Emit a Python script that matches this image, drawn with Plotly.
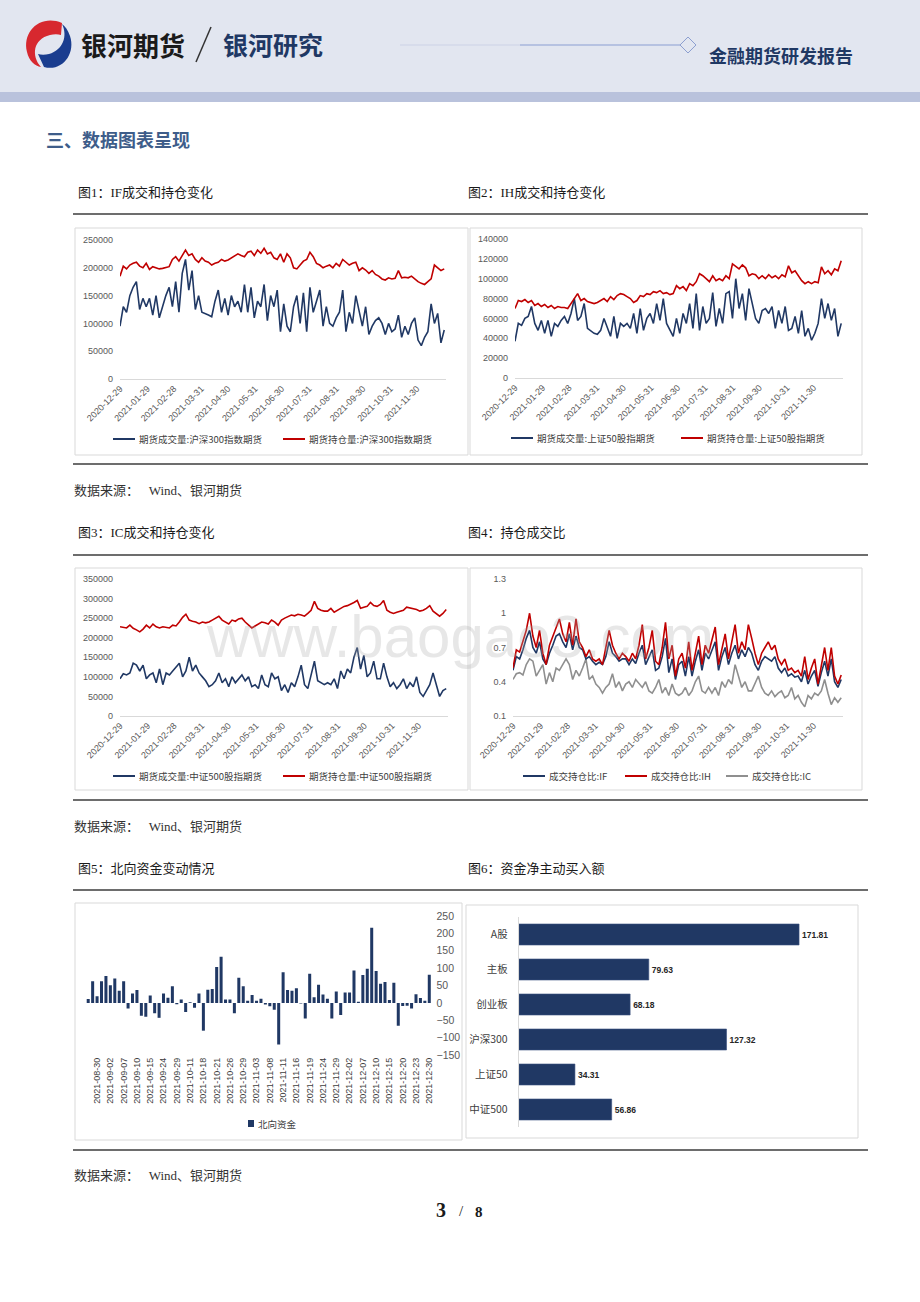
import plotly.graph_objects as go
import pandas as pd

W, H = 920, 1302
NAVY = "#203864"
RED = "#c00000"
GRAY = "#8f8f8f"
TICK = "#595959"
CJK = "Noto Sans CJK SC"
SERIF = "Liberation Serif, Noto Sans CJK SC"
SANS = "Liberation Sans, Noto Sans CJK SC"

# ---------------- data ----------------
date_ticks = ["2020-12-29", "2021-01-29", "2021-02-28", "2021-03-31", "2021-04-30", "2021-05-31",
              "2021-06-30", "2021-07-31", "2021-08-31", "2021-09-30", "2021-10-31", "2021-11-30"]
series_start, series_end = "2020-12-29", "2021-12-31"

# volumes / open interest in thousands of contracts
if_vol = [95, 130, 120, 150, 165, 175, 125, 145, 130, 145,
          115, 150, 110, 130, 150, 165, 130, 175, 120, 190,
          215, 160, 195, 125, 150, 120, 118, 115, 112, 140,
          160, 120, 145, 115, 150, 130, 140, 120, 170, 120,
          165, 110, 140, 130, 170, 105, 150, 130, 160, 85,
          135, 95, 85, 130, 150, 100, 155, 85, 165, 120,
          140, 160, 95, 130, 100, 95, 110, 120, 160, 85,
          120, 100, 150, 125, 95, 130, 80, 95, 105, 110,
          100, 80, 100, 85, 90, 115, 75, 95, 80, 100,
          110, 70, 60, 75, 85, 135, 100, 118, 65, 88]
if_oi = [185, 203, 198, 205, 208, 210, 203, 200, 208, 197,
         202, 200, 198, 199, 200, 202, 215, 220, 212, 222,
         232, 222, 225, 215, 210, 218, 212, 210, 205, 208,
         210, 215, 212, 214, 218, 222, 225, 222, 220, 228,
         230, 222, 232, 226, 235, 225, 228, 218, 215, 225,
         210, 225, 218, 200, 198, 205, 212, 215, 228, 220,
         208, 205, 200, 203, 205, 200, 208, 203, 215, 210,
         205, 208, 210, 195, 200, 196, 190, 195, 188, 185,
         180, 178, 182, 180, 181, 195, 182, 183, 182, 185,
         180, 175, 172, 170, 175, 180, 205, 200, 195, 198]
ih_vol = [37, 55, 53, 60, 62, 72, 55, 48, 58,
          45, 58, 42, 55, 52, 58, 62, 55,
          65, 80, 58, 62, 75, 50, 47, 45, 44,
          48, 60, 50, 42, 62, 40, 55, 52,
          55, 50, 65, 45, 70, 48, 60, 65,
          55, 75, 58, 80, 55, 48, 42, 60, 45,
          65, 55, 75, 50, 85, 48, 72, 55,
          60, 86, 52, 70, 55, 85, 87, 60,
          100, 70, 85, 58, 90, 75, 60, 55, 68,
          70, 65, 72, 50, 68, 55, 72, 48,
          50, 62, 45, 68, 42, 50, 38, 45,
          55, 80, 60, 75, 58, 70, 42, 55]
ih_oi = [70, 78, 77, 79, 76, 78, 73, 75, 72,
         74, 71, 73, 70, 72, 71, 71, 70,
         75, 80, 85, 78, 80, 77, 76, 75, 76,
         78, 80, 77, 82, 79, 83, 85, 84,
         82, 80, 76, 78, 83, 82, 85, 84,
         87, 86, 88, 85, 86, 84, 85,
         93, 90, 92, 88, 95, 93, 97,
         105, 103, 100, 97, 103, 98, 100, 98, 103, 100,
         115, 112, 110, 114, 111, 103,
         105, 104, 100, 103, 100, 104, 101, 103, 100, 104, 102,
         113, 106, 108, 103, 98,
         95, 97, 95, 97, 96,
         112, 105, 108, 104, 110, 108, 118]
ic_vol = [95, 108, 105, 110, 135, 130, 115, 130, 95, 105,
          110, 85, 120, 80, 110, 105, 115, 125, 135, 100,
          115, 150, 115, 130, 110, 100, 90, 75, 80, 90,
          110, 85, 95, 75, 100, 85, 95, 105, 90, 100,
          75, 80, 70, 105, 80, 75, 110, 95, 100, 65,
          80, 60, 85, 75, 100, 130, 80, 70, 105, 140,
          90, 85, 80, 85, 80, 95, 70, 115, 95, 120,
          110, 150, 175, 120, 155, 100, 110, 140, 95, 95,
          135, 100, 75, 85, 70, 80, 95, 70, 85, 75,
          100, 60, 50, 65, 80, 110, 80, 50, 65, 70]
ic_oi = [228, 227, 225, 232, 224, 220, 215, 222, 232, 225,
         235, 228, 225, 228, 226, 225, 232, 230, 240, 252,
         260, 245, 242, 240, 236, 240, 238, 240, 245, 250,
         255, 245, 240, 235, 245, 242, 248, 250, 240, 232,
         225, 230, 235, 240, 238, 235, 245, 240, 232, 245,
         250, 255, 258, 256, 260, 258, 255, 262, 270, 293,
         275, 270, 268, 268, 275, 265, 270, 275, 280, 282,
         285, 290, 295, 275, 278, 280, 290, 282, 280, 285,
         295, 270, 265, 262, 265, 268, 270, 278, 276, 275,
         272, 268, 270, 275, 282, 268, 262, 255, 262, 272]
ratio_if = [0.50, 0.62, 0.60, 0.68, 0.78, 0.85, 0.70, 0.65, 0.75, 0.60,
            0.55, 0.65, 0.72, 0.80, 0.82, 0.75, 0.70, 0.82, 0.68, 0.80,
            0.70, 0.68, 0.60, 0.62, 0.58, 0.55, 0.57, 0.55, 0.62, 0.75,
            0.65, 0.62, 0.58, 0.60, 0.60, 0.55, 0.60, 0.56, 0.65, 0.72,
            0.55, 0.62, 0.68, 0.50, 0.52, 0.62, 0.78, 0.48, 0.60, 0.42,
            0.55, 0.58, 0.45, 0.62, 0.45, 0.58, 0.68, 0.50, 0.65, 0.60,
            0.68, 0.75, 0.50, 0.62, 0.70, 0.55, 0.65, 0.72, 0.60, 0.68,
            0.62, 0.70, 0.65, 0.55, 0.50, 0.58, 0.62, 0.60, 0.58, 0.62,
            0.52, 0.48, 0.52, 0.45, 0.47, 0.44, 0.45, 0.40, 0.50, 0.38,
            0.45, 0.50, 0.36, 0.48, 0.58, 0.45, 0.60, 0.40, 0.35, 0.42]
ratio_ih = [0.52, 0.68, 0.66, 0.75, 0.85, 1.00, 0.80, 0.70, 0.85, 0.65,
            0.55, 0.72, 0.80, 0.88, 0.95, 0.82, 0.75, 0.92, 0.72, 0.95,
            0.75, 0.70, 0.62, 0.68, 0.60, 0.58, 0.60, 0.55, 0.70, 0.85,
            0.72, 0.65, 0.60, 0.65, 0.62, 0.58, 0.65, 0.60, 0.72, 0.90,
            0.60, 0.70, 0.85, 0.58, 0.55, 0.70, 0.92, 0.60, 0.72, 0.45,
            0.60, 0.65, 0.52, 0.75, 0.50, 0.65, 0.80, 0.55, 0.72, 0.65,
            0.78, 0.88, 0.55, 0.70, 0.82, 0.60, 0.75, 0.90, 0.65, 0.75,
            0.68, 0.90, 0.78, 0.65, 0.55, 0.65, 0.70, 0.75, 0.68, 0.72,
            0.60, 0.55, 0.60, 0.50, 0.52, 0.48, 0.50, 0.45, 0.62, 0.42,
            0.52, 0.60, 0.38, 0.55, 0.70, 0.50, 0.70, 0.45, 0.38, 0.46]
ratio_ic = [0.42, 0.47, 0.48, 0.46, 0.55, 0.60, 0.58, 0.45, 0.50, 0.55,
            0.38, 0.48, 0.40, 0.52, 0.50, 0.55, 0.60, 0.55, 0.42, 0.50,
            0.45, 0.52, 0.60, 0.42, 0.45, 0.38, 0.35, 0.30, 0.35, 0.38,
            0.47, 0.35, 0.40, 0.32, 0.38, 0.40, 0.35, 0.42, 0.38, 0.35,
            0.40, 0.32, 0.30, 0.35, 0.42, 0.30, 0.35, 0.28, 0.38, 0.30,
            0.28, 0.30, 0.35, 0.28, 0.32, 0.40, 0.45, 0.32, 0.30, 0.35,
            0.30, 0.35, 0.28, 0.40, 0.35, 0.42, 0.38, 0.55, 0.45, 0.35,
            0.40, 0.32, 0.32, 0.38, 0.45, 0.35, 0.30, 0.28, 0.32, 0.27,
            0.30, 0.32, 0.26, 0.28, 0.35, 0.25, 0.28, 0.22, 0.18, 0.28,
            0.25, 0.30, 0.28, 0.32, 0.42, 0.30, 0.20, 0.26, 0.22, 0.26]

north_labels = ["2021-08-30", "2021-09-02", "2021-09-07", "2021-09-10", "2021-09-15", "2021-09-24",
                "2021-09-29", "2021-10-11", "2021-10-18", "2021-10-21", "2021-10-26", "2021-10-29",
                "2021-11-03", "2021-11-08", "2021-11-11", "2021-11-16", "2021-11-19", "2021-11-24",
                "2021-11-29", "2021-12-02", "2021-12-07", "2021-12-10", "2021-12-15", "2021-12-20",
                "2021-12-23", "2021-12-30"]
north_flow = [11, 62, 19, 62, 77, 51, 70, 35, 62, -16,
              27, 37, -37, -40, 21, -30, -43, 27, 15, 48,
              -4, 10, -26, 2, -14, 27, -80, 38, 40, 103,
              133, 10, 10, -30, 72, 48, 6, 23, 6, 12,
              -5, -10, -20, -120, 88, 37, 35, 42, -2, -45,
              84, 16, 52, 24, 12, -45, 33, -35, 30, 30,
              93, 3, 80, 98, 216, 92, 55, 60, 8, 58,
              -66, -9, -8, -16, 25, 14, 6, 81]

buy_cats = ["A股", "主板", "创业板", "沪深300", "上证50", "中证500"]
buy_vals = [171.81, 79.63, 68.18, 127.32, 34.31, 56.86]

# ---------------- helpers ----------------
def X(x):
    return x / W


def Y(y):
    return 1 - y / H


def path(s):
    out, pair = [], []
    for tok in s.split():
        try:
            v = float(tok)
        except ValueError:
            out.append(tok)
            continue
        pair.append(v)
        if len(pair) == 2:
            out.append(f"{X(pair[0]):.5f},{Y(pair[1]):.5f}")
            pair = []
    return " ".join(out)


shapes, annos = [], []


def rect(x0, y0, x1, y1, fill=None, line=None, lw=1):
    shapes.append(dict(type="rect", xref="paper", yref="paper", x0=X(x0), x1=X(x1), y0=Y(y1), y1=Y(y0),
                       fillcolor=fill or "rgba(0,0,0,0)", line=dict(color=line or "rgba(0,0,0,0)", width=lw if line else 0)))


def hline(x0, y0, x1, y1, color, w=1):
    shapes.append(dict(type="line", xref="paper", yref="paper", x0=X(x0), x1=X(x1), y0=Y(y0), y1=Y(y1),
                       line=dict(color=color, width=w)))


def text(x, y, s, size, color="#333333", family=CJK, xanchor="left", weight="normal"):
    annos.append(dict(xref="paper", yref="paper", x=X(x), y=Y(y), text=s, showarrow=False,
                      xanchor=xanchor, yanchor="middle",
                      font=dict(size=size, color=color, family=family, weight=weight)))


fig = go.Figure()


def add_line(vals, color, sfx, scale=1):
    n = len(vals)
    fig.add_trace(go.Scatter(x=pd.date_range(series_start, series_end, periods=n),
                             y=[v * scale for v in vals], mode="lines",
                             line=dict(color=color, width=1.6),
                             xaxis="x" + sfx, yaxis="y" + sfx, showlegend=False, hoverinfo="skip"))


def time_axes(sfx, x0, x1, ytop, ybot, yr, ytv, ytt):
    fig.layout["xaxis" + sfx] = dict(
        domain=[X(x0), X(x1)], anchor="y" + sfx, type="date",
        range=["2020-12-29", "2022-01-02"], tickmode="array", tickvals=date_ticks, ticktext=date_ticks,
        tickangle=-45, tickfont=dict(family=SANS, size=9, color=TICK), showgrid=False, zeroline=False,
        showline=True, linecolor="#d9d9d9", linewidth=1, ticks="", fixedrange=True, automargin=False)
    fig.layout["yaxis" + sfx] = dict(
        domain=[Y(ybot), Y(ytop)], anchor="x" + sfx, range=yr, tickmode="array", tickvals=ytv, ticktext=ytt,
        tickfont=dict(family=SANS, size=9, color=TICK), showgrid=False, zeroline=False, showline=False,
        ticks="", ticklabelstandoff=6, fixedrange=True, automargin=False)


def legend_item(x, y, color, label):
    hline(x, y, x + 22, y, color, 2)
    text(x + 24, y, label, 9.5, "#404040")


# ---------------- chart 1: IF ----------------
add_line(if_vol, NAVY, "", 1000)
add_line(if_oi, RED, "", 1000)
time_axes("", 120, 446, 240, 379, [0, 250000], [0, 50000, 100000, 150000, 200000, 250000],
          ["0", "50000", "100000", "150000", "200000", "250000"])
legend_item(113, 439, NAVY, "期货成交量:沪深300指数期货")
legend_item(283, 439, RED, "期货持仓量:沪深300指数期货")

# ---------------- chart 2: IH ----------------
add_line(ih_vol, NAVY, "2", 1000)
add_line(ih_oi, RED, "2", 1000)
time_axes("2", 515, 843, 239, 378, [0, 140000], [0, 20000, 40000, 60000, 80000, 100000, 120000, 140000],
          ["0", "20000", "40000", "60000", "80000", "100000", "120000", "140000"])
legend_item(511, 438, NAVY, "期货成交量:上证50股指期货")
legend_item(681, 438, RED, "期货持仓量:上证50股指期货")

# ---------------- chart 3: IC ----------------
add_line(ic_vol, NAVY, "3", 1000)
add_line(ic_oi, RED, "3", 1000)
time_axes("3", 120, 448, 579, 716, [0, 350000], [0, 50000, 100000, 150000, 200000, 250000, 300000, 350000],
          ["0", "50000", "100000", "150000", "200000", "250000", "300000", "350000"])
legend_item(113, 776, NAVY, "期货成交量:中证500股指期货")
legend_item(283, 776, RED, "期货持仓量:中证500股指期货")

# ---------------- chart 4: ratios ----------------
add_line(ratio_ic, GRAY, "4")
add_line(ratio_if, NAVY, "4")
add_line(ratio_ih, RED, "4")
time_axes("4", 513, 843, 579, 716, [0.1, 1.3], [0.1, 0.4, 0.7, 1.0, 1.3], ["0.1", "0.4", "0.7", "1", "1.3"])
legend_item(523, 776, NAVY, "成交持仓比:IF")
legend_item(625, 776, RED, "成交持仓比:IH")
legend_item(726, 776, GRAY, "成交持仓比:IC")

# ---------------- chart 5: northbound ----------------
idx = list(range(len(north_flow)))
fig.add_trace(go.Bar(x=idx, y=north_flow, marker=dict(color=NAVY, line=dict(width=0)), width=0.68,
                     xaxis="x5", yaxis="y5", showlegend=False, hoverinfo="skip"))
fig.layout["xaxis5"] = dict(domain=[X(86), X(431.5)], anchor="y5", range=[-0.5, len(north_flow) - 0.5],
                            tickmode="array", tickvals=[2 + 3 * i for i in range(len(north_labels))],
                            ticktext=north_labels, tickangle=-90,
                            tickfont=dict(family=SANS, size=9, color="#404040"),
                            showgrid=False, zeroline=False, showline=False, ticks="", fixedrange=True,
                            automargin=False)
fig.layout["yaxis5"] = dict(domain=[Y(1055), Y(916)], anchor="x5", side="right", range=[-150, 250],
                            tickmode="array", tickvals=list(range(-150, 251, 50)),
                            tickfont=dict(family=SANS, size=10.5, color=TICK), showgrid=False,
                            zeroline=False, showline=False, ticks="", ticklabelstandoff=4, fixedrange=True,
                            automargin=False)
rect(248, 1120, 254, 1127, fill=NAVY)
text(256, 1124, "北向资金", 9.5, "#404040")

# ---------------- chart 6: net active buying ----------------
fig.add_trace(go.Bar(y=buy_cats, x=buy_vals, orientation="h", width=0.6,
                     marker=dict(color=NAVY, line=dict(color="#3a5080", width=0.6)),
                     text=[f"{v:.2f}" for v in buy_vals], textposition="outside", cliponaxis=False,
                     textfont=dict(family=SANS, size=8.5, color="#262626", weight="bold"),
                     xaxis="x6", yaxis="y6", showlegend=False, hoverinfo="skip"))
fig.layout["xaxis6"] = dict(domain=[X(519), X(845)], anchor="y6", range=[0, 200], visible=False,
                            fixedrange=True, automargin=False)
fig.layout["yaxis6"] = dict(domain=[Y(1127), Y(917)], anchor="x6", autorange="reversed",
                            tickfont=dict(family=CJK, size=10.5, color="#404040"), showgrid=False,
                            zeroline=False, showline=True, linecolor="#d9d9d9", linewidth=1.2, ticks="",
                            ticklabelstandoff=8, fixedrange=True, automargin=False)

# ---------------- page decorations ----------------
rect(0, 0, W, 92, fill="#e2e6f0")
rect(0, 92, W, 102, fill="#b9c2dc")
# logo
shapes.append(dict(type="path", xref="paper", yref="paper", fillcolor="#d7282f", line=dict(width=0),
                   path=path("M 62 23 C 40 14 22 32 27 52 C 29 61 35 66 41 67 C 31 56 33 39 50 35 "
                             "C 54 34 58 34 61 35 Z")))
shapes.append(dict(type="path", xref="paper", yref="paper", fillcolor="#1a3d8f", line=dict(width=0),
                   path=path("M 44 67 C 62 72 76 54 70 36 C 68 30 65 26 62 24 C 68 36 63 50 49 54 "
                             "C 45 55 41 55 38 54 Z")))
text(79, 44, "银河期货", 26, "#1a1a1a", CJK, weight="bold")
hline(196, 62, 211, 27, "#333333", 1.5)
text(221, 44, "银河研究", 25, "#1f3864", CJK, weight="bold")
hline(400, 45, 520, 45, "rgba(160,176,216,0.35)", 1.2)
hline(520, 45, 680, 45, "rgba(130,150,205,0.9)", 1.2)
shapes.append(dict(type="path", xref="paper", yref="paper", fillcolor="#e2e6f0",
                   line=dict(color="#8c9fd0", width=1), path=path("M 680 45 L 688 37 L 696 45 L 688 53 Z")))
text(707, 55, "金融期货研发报告", 18, "#1f3864", CJK, weight="bold")

text(44, 139, "三、数据图表呈现", 18, "#3e5d8a", CJK, weight="bold")

# figure titles
text(76, 192, "图1：IF成交和持仓变化", 13, "#1a1a1a", SERIF)
text(466, 192, "图2：IH成交和持仓变化", 13, "#1a1a1a", SERIF)
text(76, 532, "图3：IC成交和持仓变化", 13, "#1a1a1a", SERIF)
text(466, 532, "图4：持仓成交比", 13, "#1a1a1a", SERIF)
text(76, 868, "图5：北向资金变动情况", 13, "#1a1a1a", SERIF)
text(466, 868, "图6：资金净主动买入额", 13, "#1a1a1a", SERIF)

# rules
for yy in (214, 464, 555, 800, 890, 1150):
    hline(73, yy, 868, yy, "#3c3c3c", 1.6)

# chart boxes
for (a, b, c, d) in [(75, 228, 468, 455), (470, 228, 862, 455), (75, 568, 468, 790),
                     (470, 568, 862, 790), (75, 903, 462, 1140), (466, 905, 858, 1138)]:
    rect(a, b, c, d, line="#d9d9d9", lw=1)

# sources
for yy in (490, 826, 1175):
    text(72, yy, "数据来源：   Wind、银河期货", 13, "#333333", SERIF)

# watermark
text(460, 636, "www.baogao3.com", 60, "rgba(170,170,170,0.28)", "Liberation Sans", xanchor="center")

# page number
text(441, 1210, "3", 20, "#1a1a1a", "Liberation Serif", xanchor="center", weight="bold")
text(461, 1211, "/", 15, "#1a1a1a", "Liberation Serif", xanchor="center")
text(479, 1212, "8", 15, "#1a1a1a", "Liberation Serif", xanchor="center", weight="bold")

fig.update_layout(width=W, height=H, margin=dict(l=0, r=0, t=0, b=0, autoexpand=False), autosize=False,
                  paper_bgcolor="white", plot_bgcolor="rgba(0,0,0,0)",
                  shapes=shapes, annotations=annos, showlegend=False)

fig.write_html("out.html", config={"displayModeBar": False, "staticPlot": True},
               post_script="document.body.style.margin='0';document.body.style.overflow='hidden';")
